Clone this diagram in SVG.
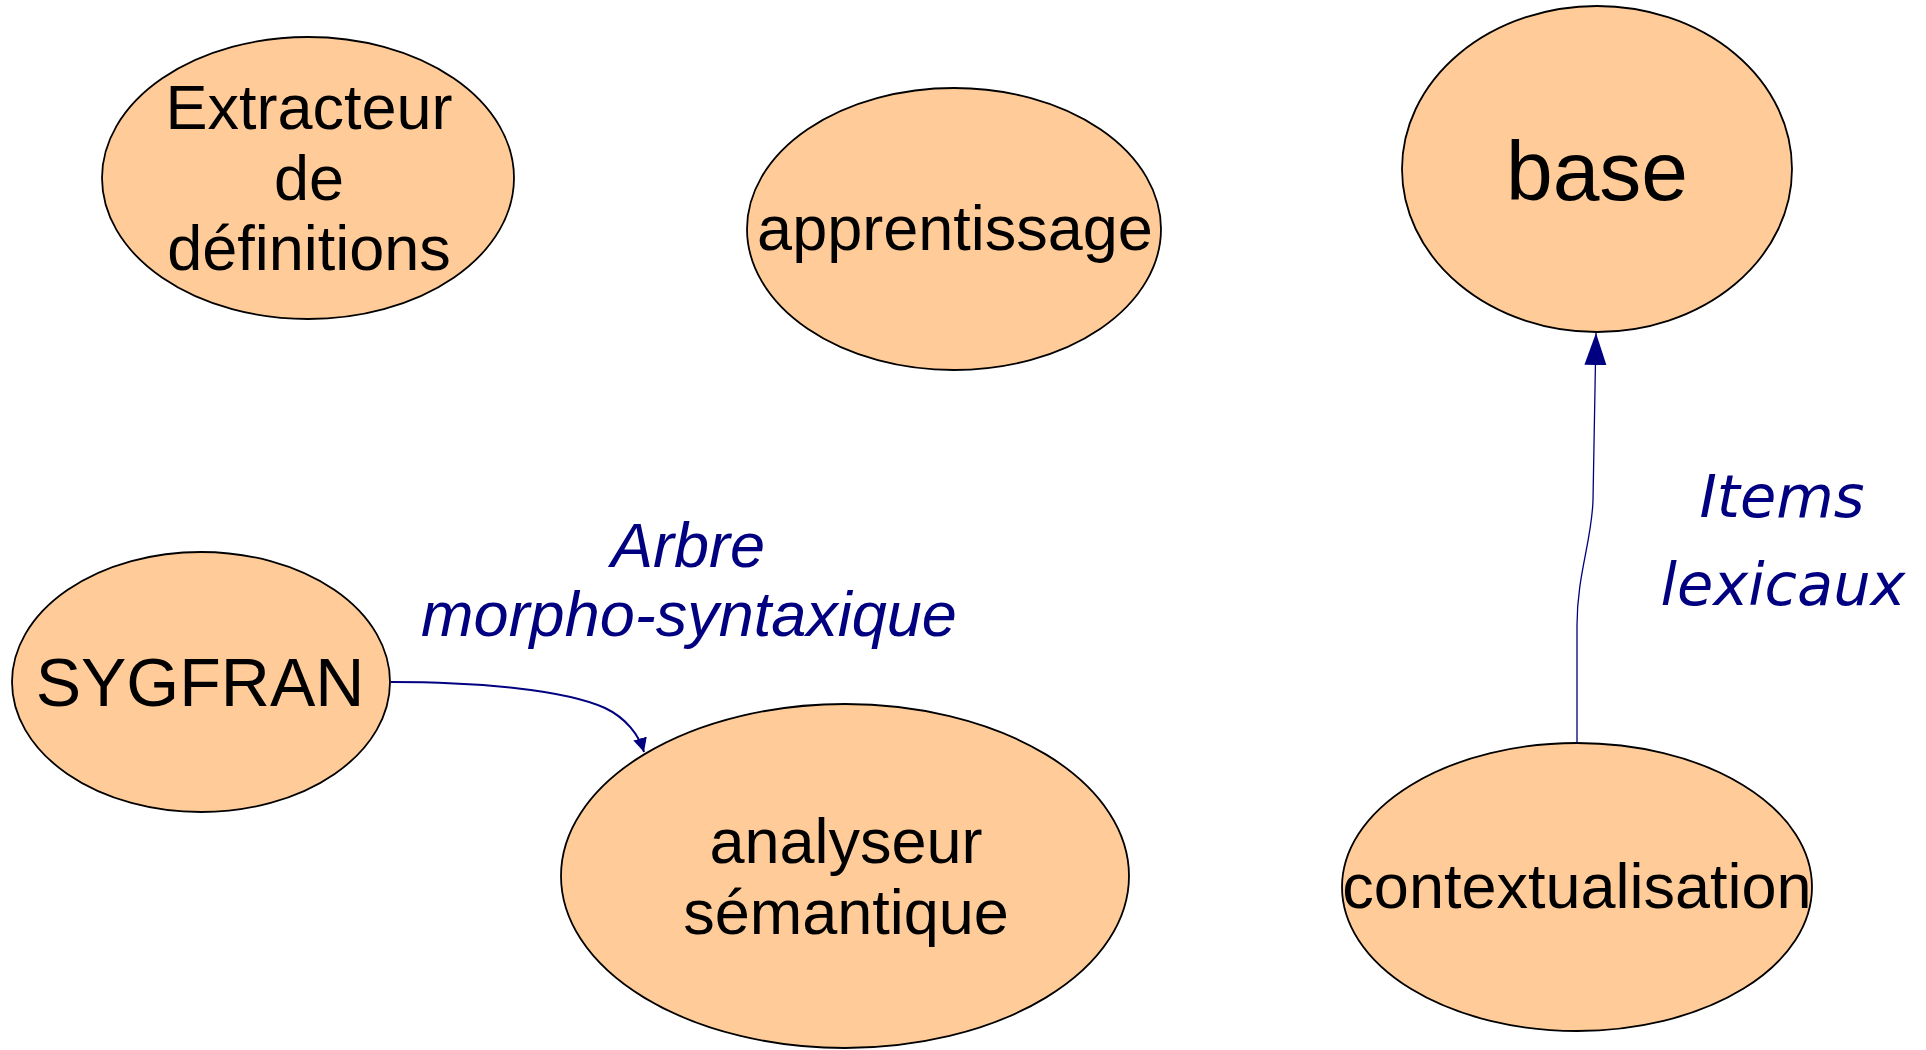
<svg xmlns="http://www.w3.org/2000/svg" width="1926" height="1050" viewBox="0 0 1926 1050">
<style>
.node ellipse{fill:#FFCC99;stroke:#000;stroke-width:1.8}
.node text{font-family:"Liberation Sans",Arial,sans-serif;font-size:63px;fill:#000;text-anchor:middle}
.edge{fill:none;stroke:#000080}
.lbl{font-family:"Liberation Sans",Arial,sans-serif;font-style:italic;font-size:63px;fill:#000080;text-anchor:middle}
.lbl2{font-family:"Comic Sans MS","DejaVu Sans",sans-serif;font-style:italic;font-size:59px;fill:#000080;text-anchor:middle}
</style>
<defs>
<marker id="arrS" markerUnits="userSpaceOnUse" markerWidth="15" markerHeight="15" refX="14" refY="7" orient="auto"><path d="M0,0 L14,7 L0,14 z" fill="#000080"/></marker>
<marker id="arrL" markerUnits="userSpaceOnUse" markerWidth="33" markerHeight="23" refX="32" refY="11" orient="auto"><path d="M0,0 L32,11 L0,22 z" fill="#000080"/></marker>
</defs>
<rect width="1926" height="1050" fill="#fff"/>
<g id="n-extracteur" class="node"><ellipse cx="308" cy="178" rx="206" ry="141"/><text x="309" y="129">Extracteur</text><text x="309" y="200">de</text><text x="309" y="270">définitions</text></g>
<g id="n-apprentissage" class="node"><ellipse cx="954" cy="229" rx="207" ry="141"/><text x="955" y="250">apprentissage</text></g>
<g id="n-base" class="node"><ellipse cx="1597" cy="169" rx="195" ry="163"/><text x="1597" y="200" style="font-size:84px">base</text></g>
<g id="n-sygfran" class="node"><ellipse cx="201" cy="682" rx="189" ry="130"/><text x="200" y="706" style="font-size:68px">SYGFRAN</text></g>
<g id="n-analyseur" class="node"><ellipse cx="845" cy="876" rx="284" ry="172"/><text x="846" y="863">analyseur</text><text x="846" y="934">sémantique</text></g>
<g id="n-contextualisation" class="node"><ellipse cx="1577" cy="887" rx="235" ry="144"/><text x="1577" y="908">contextualisation</text></g>
<g id="connectors">
<path class="edge" d="M391,682 C480,682 565,690 605,708 C626,718 639,735 644,752" stroke-width="2" marker-end="url(#arrS)"/>
<path class="edge" d="M1577,743 L1577,625 C1577,575 1592,540 1593,500 L1596,333" stroke-width="1.3" marker-end="url(#arrL)"/>
<text class="lbl" x="688" y="567">Arbre</text>
<text class="lbl" x="689" y="636">morpho-syntaxique</text>
<text class="lbl2" x="1782" y="517">Items</text>
<text class="lbl2" x="1783" y="605">lexicaux</text>
</g>
</svg>
